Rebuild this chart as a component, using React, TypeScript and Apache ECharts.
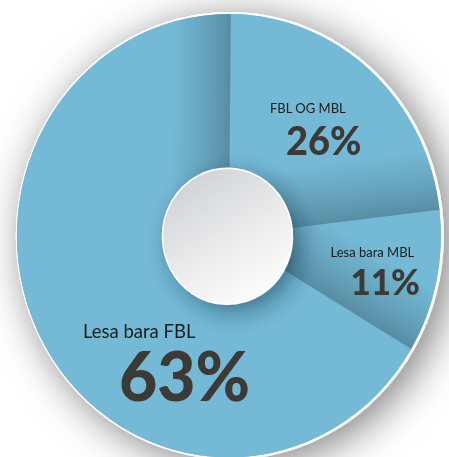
import React, { useEffect, useRef } from "react";
import * as echarts from "echarts";

// ---- data ----
const sliceNames = ["FBL OG MBL", "Lesa bara MBL", "Lesa bara FBL"];
const statedPercent = [26, 11, 63];
// angular share of each slice as it is drawn in the reference
const drawnShare = [23.0, 10.4, 66.6];

// ---- layout (unscaled chart space; the page is stretched vertically) ----
const W = 449;
const H = 437;
const STRETCH = 457 / 437;
const CX = 229;
const CY = 225.4;
const R = 212;
const START = 89.5;
const HOLE_CX = 228;
const HOLE_CY = 226;
const HOLE_R = 65;

const BASE = "#74BAD6";

const labelLayout = [
  { nx: 270, ny: 103.4, nSize: 13, px: 286, py: 133.7, pSize: 38 },
  { nx: 330.5, ny: 240.5, nSize: 13, px: 350.5, py: 268.9, pSize: 35 },
  { nx: 83, ny: 316.3, nSize: 18.5, px: 119, py: 357.8, pSize: 66 },
];

function band(theta: number, w: number) {
  const a = ((theta + 90) * Math.PI) / 180;
  const nx = Math.cos(a);
  const ny = -Math.sin(a);
  return {
    type: "linear",
    x: CX,
    y: CY,
    x2: CX + w * nx,
    y2: CY + w * ny,
    global: true,
    colorStops: [
      { offset: 0, color: "rgba(10,20,25,0.27)" },
      { offset: 0.45, color: "rgba(10,20,25,0.13)" },
      { offset: 0.85, color: "rgba(10,20,25,0.04)" },
      { offset: 1, color: "rgba(10,20,25,0)" },
    ],
  };
}

const common = {
  type: "pie",
  center: [CX, CY],
  startAngle: START,
  clockwise: true,
  silent: true,
  avoidLabelOverlap: false,
  label: { show: false },
  labelLine: { show: false },
  emphasis: { disabled: true },
  animation: false,
};

export default function App() {
  const ref = useRef<HTMLDivElement>(null);
  useEffect(() => {
    if (!ref.current) return;
    const chart = echarts.init(ref.current, null, { renderer: "svg" });
    const total = drawnShare.reduce((a, b) => a + b, 0);
    const ends: number[] = [];
    let acc = START;
    drawnShare.forEach((s) => {
      acc -= (360 * s) / total;
      ends.push(acc);
    });
    const q = total / 4;

    const graphics: any[] = [];
    sliceNames.forEach((name, i) => {
      const L = labelLayout[i];
      graphics.push({
        type: "text",
        x: L.nx,
        y: L.ny,
        z: 100,
        silent: true,
        style: {
          text: name,
          fontFamily: "Lato",
          fontSize: L.nSize,
          fontWeight: "normal",
          fill: "#1b1b1b",
          textAlign: "left",
          align: "left",
          textVerticalAlign: "middle",
          verticalAlign: "middle",
        },
      });
      graphics.push({
        type: "text",
        x: L.px,
        y: L.py,
        z: 100,
        silent: true,
        style: {
          text: statedPercent[i] + "%",
          fontFamily: "Lato",
          fontSize: L.pSize,
          fontWeight: 900,
          fill: "#3d3935",
          textAlign: "left",
          align: "left",
          textVerticalAlign: "middle",
          verticalAlign: "middle",
        },
      });
    });

    chart.setOption({
      animation: false,
      backgroundColor: "#ffffff",
      series: [
        {
          ...common,
          radius: [0, R + 2],
          data: [
            {
              value: total,
              itemStyle: {
                color: "#ffffff",
                shadowBlur: 40,
                shadowColor: "rgba(0,0,0,0.5)",
                shadowOffsetX: 8,
                shadowOffsetY: 6,
              },
            },
          ],
        },
        {
          ...common,
          radius: [0, R],
          data: [{ value: total, itemStyle: { color: BASE } }],
        },
        {
          ...common,
          radius: [0, R],
          data: drawnShare.map((v, i) => ({
            name: sliceNames[i],
            value: v,
            itemStyle: { color: BASE },
          })),
        },
        {
          ...common,
          radius: [0, R],
          data: [
            { value: drawnShare[0], itemStyle: { color: band(ends[0], 58) } },
            { value: drawnShare[1], itemStyle: { color: band(ends[1], 62) } },
            { value: drawnShare[2] - q, itemStyle: { color: "rgba(0,0,0,0)" } },
            { value: q, itemStyle: { color: band(START, 58) } },
          ],
        },
        {
          ...common,
          center: [HOLE_CX, HOLE_CY],
          radius: [0, HOLE_R],
          data: [
            {
              value: 1,
              itemStyle: {
                color: {
                  type: "linear",
                  x: 0.2,
                  y: 0,
                  x2: 0.8,
                  y2: 1,
                  colorStops: [
                    { offset: 0, color: "#cdd0d3" },
                    { offset: 0.55, color: "#ececed" },
                    { offset: 1, color: "#ffffff" },
                  ],
                },
                borderColor: "#ffffff",
                borderWidth: 1.5,
                shadowBlur: 22,
                shadowColor: "rgba(10,40,60,0.45)",
                shadowOffsetX: 7,
                shadowOffsetY: 7,
              },
            },
          ],
        },
      ],
      graphic: { elements: graphics },
    });
    return () => chart.dispose();
  }, []);

  return (
    <div
      style={{
        position: "absolute",
        left: 0,
        top: 0,
        width: W,
        height: 457,
        overflow: "hidden",
        background: "#fff",
      }}
    >
      <div
        ref={ref}
        style={{
          width: W,
          height: H,
          transform: `scaleY(${STRETCH})`,
          transformOrigin: "0 0",
        }}
      />
    </div>
  );
}
